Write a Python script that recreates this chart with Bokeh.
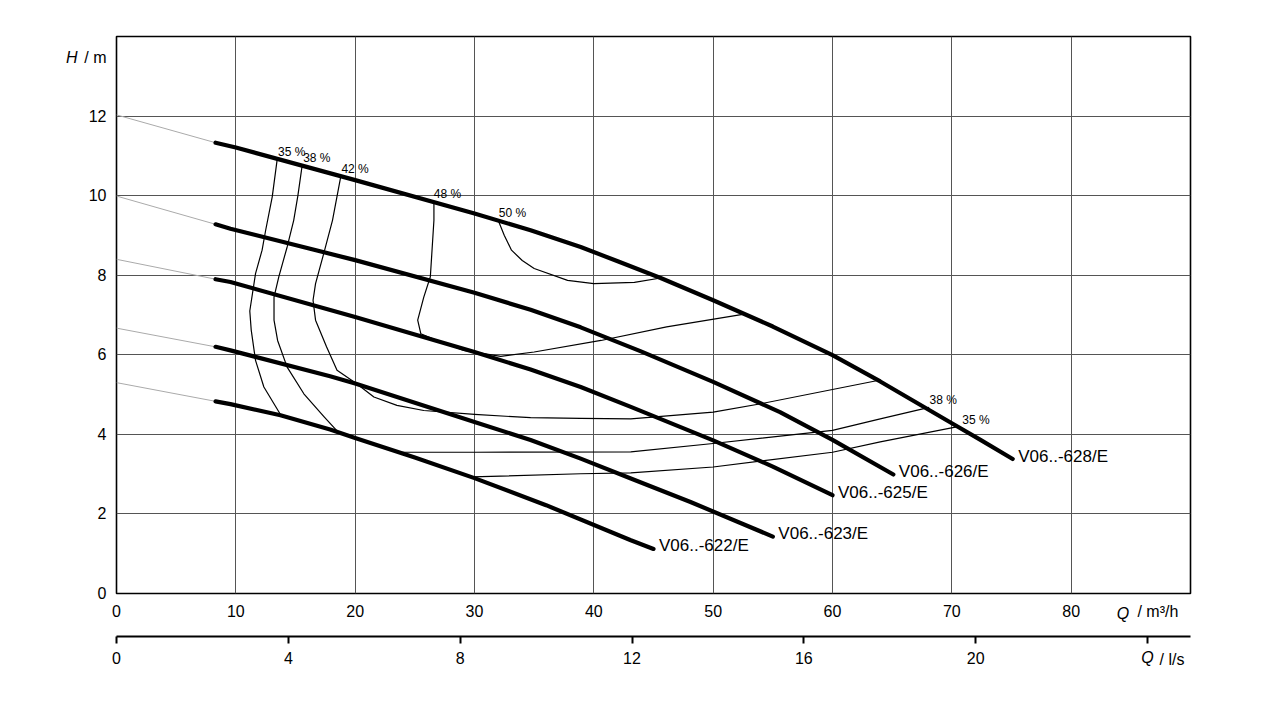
from bokeh.plotting import figure
from bokeh.models import Range1d, LinearAxis, FixedTicker
from bokeh.core.properties import value
from bokeh.embed import file_html
from bokeh.resources import INLINE

FONT = "Liberation Sans"

# ---------------- data (Q in m3/h, H in m) ----------------
pumps = ["V06..-628/E", "V06..-626/E", "V06..-625/E", "V06..-623/E", "V06..-622/E"]

q628 = [8.3, 10, 20, 30, 34.7, 38.9, 42, 45.6, 50, 55, 60, 64, 70, 72.4, 75.1]
h628 = [11.33, 11.21, 10.39, 9.55, 9.13, 8.71, 8.35, 7.93, 7.37, 6.71, 5.99, 5.33, 4.28, 3.86, 3.38]
q626 = [8.3, 9.55, 20, 30, 34.7, 38.9, 44, 50, 55.6, 60, 65.1]
h626 = [9.28, 9.17, 8.38, 7.56, 7.13, 6.69, 6.08, 5.32, 4.56, 3.86, 2.99]
q625 = [8.3, 9.55, 20, 30, 34.7, 38.9, 43.1, 50, 55, 60]
h625 = [7.90, 7.83, 6.95, 6.07, 5.63, 5.19, 4.69, 3.85, 3.19, 2.47]
q623 = [8.3, 9.55, 17.9, 20, 30, 34.7, 38.9, 43.1, 48.1, 55]
h623 = [6.20, 6.11, 5.46, 5.28, 4.31, 3.86, 3.39, 2.89, 2.30, 1.43]
q622 = [8.3, 9.55, 13.74, 17.9, 20, 25, 30, 36, 43.1, 45]
h622 = [4.83, 4.76, 4.48, 4.12, 3.91, 3.42, 2.90, 2.22, 1.34, 1.12]

# thin grey extensions from Q = 0 to the start of each curve
ext_q0 = [0, 0, 0, 0, 0]
ext_h0 = [12.03, 9.99, 8.40, 6.67, 5.30]

# efficiency iso-lines
eff35a_q = [13.46, 13.05, 12.5, 12.2, 11.65, 11.17, 11.29, 11.65, 12.35, 13.74]
eff35a_h = [10.90, 9.97, 9.13, 8.63, 8.04, 7.10, 6.62, 5.86, 5.19, 4.50]
eff35b_q = [29.8, 38.9, 43.1, 50, 60, 64, 70.4]
eff35b_h = [2.93, 3.01, 3.03, 3.18, 3.55, 3.81, 4.19]
eff38a_q = [15.55, 15.2, 14.85, 14.3, 13.6, 13.2, 13.2, 13.5, 14.3, 15.7, 17.4, 18.5]
eff38a_h = [10.74, 10.0, 9.38, 8.71, 7.96, 7.45, 6.87, 6.36, 5.69, 5.02, 4.44, 4.08]
eff38b_q = [23.9, 30, 43.1, 50, 60, 64, 68.1]
eff38b_h = [3.55, 3.55, 3.56, 3.77, 4.10, 4.39, 4.68]
eff42_q = [18.8, 18.1, 17.37, 16.68, 16.47, 16.68, 17.6, 18.48, 20.1, 21.57, 23.5, 25.75,
           30, 34.7, 38.9, 43.1, 50, 54, 63.9]
eff42_h = [10.49, 9.38, 8.55, 7.79, 7.37, 6.87, 6.2, 5.61, 5.28, 4.94, 4.73, 4.60,
           4.50, 4.42, 4.40, 4.39, 4.56, 4.77, 5.36]
eff48_q = [26.6, 26.6, 26.3, 25.75, 25.24, 25.5, 26.87, 29.1, 32.2, 35, 40.6, 46.1, 52.6]
eff48_h = [9.84, 9.38, 7.96, 7.45, 6.87, 6.53, 6.36, 6.11, 5.96, 6.07, 6.36, 6.70, 7.02]
eff50_q = [32.0, 32.5, 33.1, 34.0, 35, 37.8, 40, 43.4, 45.6]
eff50_h = [9.37, 9.0, 8.63, 8.37, 8.17, 7.87, 7.79, 7.82, 7.93]

eff_labels = ["35 %", "38 %", "42 %", "48 %", "50 %", "38 %", "35 %"]
eff_label_q = [13.54, 15.64, 18.85, 26.59, 32.04, 68.13, 70.87]
eff_label_h = [11.09, 10.94, 10.67, 10.04, 9.57, 4.86, 4.35]

x_ticks = [0, 10, 20, 30, 40, 50, 60, 70, 80]
y_ticks = [0, 2, 4, 6, 8, 10, 12]
ls_ticks = [0, 4, 8, 12, 16, 20]
ls_last_tick = 24

# caption anchor positions (data units of the respective scale)
H_CAP_Y = 13.47
Q_CAP_X = 84.35
QUNIT_CAP_X = 87.27
LS_UNIT_CAP_X = 88.45
GAP_TICK_X = 45

# ---------------- figure ----------------
p = figure(width=1264, height=687, x_range=Range1d(0, 90), y_range=Range1d(0, 14),
           output_backend="svg", toolbar_location=None,
           min_border_left=116, min_border_right=74, min_border_top=36, min_border_bottom=94)
p.background_fill_color = "white"
p.border_fill_color = "white"
p.outline_line_color = "black"
p.outline_line_width = 1.6

p.xgrid.ticker = FixedTicker(ticks=x_ticks[1:])
p.ygrid.ticker = FixedTicker(ticks=y_ticks[1:])
for g in (p.xgrid[0], p.ygrid[0]):
    g.grid_line_color = "#555555"
    g.grid_line_width = 1
    g.grid_line_alpha = 1.0


def style_axis(ax, standoff, tick_out=0, italic=False, line=False, labels=True, tick_color="black"):
    ax.axis_line_color = "black" if line else None
    ax.axis_line_width = 2
    ax.major_tick_out = tick_out
    ax.major_tick_in = 0
    ax.major_tick_line_width = 2
    ax.major_tick_line_color = tick_color
    ax.minor_tick_out = 0
    ax.minor_tick_in = 0
    ax.minor_tick_line_color = None
    ax.major_label_text_font = FONT
    ax.major_label_text_font_size = "16px"
    ax.major_label_text_color = "black" if labels else None
    ax.major_label_text_font_style = "italic" if italic else "normal"
    ax.major_label_standoff = standoff


# main Q axis (m3/h) with the unit part of its caption
xa = p.xaxis[0]
xa.ticker = FixedTicker(ticks=x_ticks + [QUNIT_CAP_X])
xa.major_label_overrides = {QUNIT_CAP_X: "/ m\u00b3/h"}
style_axis(xa, 9, tick_color=None)

# main H axis with the unit part of its caption
ya = p.yaxis[0]
ya.ticker = FixedTicker(ticks=y_ticks + [H_CAP_Y])
ya.major_label_overrides = {H_CAP_Y: "/ m"}
style_axis(ya, 10, tick_color=None)

# italic symbol "H" to the left of "/ m"
yh = LinearAxis(ticker=FixedTicker(ticks=[H_CAP_Y]), major_label_overrides={H_CAP_Y: "H"})
style_axis(yh, 4, italic=True, tick_color=None)
p.add_layout(yh, "left")

# italic symbol "Q" in the same row as the m3/h tick labels
xq = LinearAxis(ticker=FixedTicker(ticks=[Q_CAP_X]), major_label_overrides={Q_CAP_X: "Q"})
style_axis(xq, -18, italic=True, tick_color=None)
p.add_layout(xq, "below")

# empty gap between the two flow scales (a white tick on white background)
gap = LinearAxis(ticker=FixedTicker(ticks=[GAP_TICK_X]))
style_axis(gap, 0, tick_out=12, tick_color="white", labels=False)
p.add_layout(gap, "below")

# second flow scale in l/s (1 l/s = 3.6 m3/h): line and ticks
p.extra_x_ranges = {"ls": Range1d(0, 90 / 3.6)}
ax2 = LinearAxis(x_range_name="ls", ticker=FixedTicker(ticks=ls_ticks + [ls_last_tick]))
style_axis(ax2, 0, tick_out=7, line=True, labels=False)
p.add_layout(ax2, "below")

# its numbers
ax2l = LinearAxis(x_range_name="ls", ticker=FixedTicker(ticks=ls_ticks))
style_axis(ax2l, 8, tick_color=None)
p.add_layout(ax2l, "below")

# its caption: italic "Q" at the last tick, then "/ l/s"
ax2q = LinearAxis(x_range_name="ls", ticker=FixedTicker(ticks=[ls_last_tick]),
                  major_label_overrides={ls_last_tick: "Q"})
style_axis(ax2q, -18, italic=True, tick_color=None)
p.add_layout(ax2q, "below")
ax2u = LinearAxis(ticker=FixedTicker(ticks=[LS_UNIT_CAP_X]),
                  major_label_overrides={LS_UNIT_CAP_X: "/ l/s"})
style_axis(ax2u, -18, tick_color=None)
p.add_layout(ax2u, "below")

# ---------------- curves ----------------
curves_q = [q628, q626, q625, q623, q622]
curves_h = [h628, h626, h625, h623, h622]

for q0, h0, qs, hs in zip(ext_q0, ext_h0, curves_q, curves_h):
    p.line([q0, qs[0]], [h0, hs[0]], line_color="#aaaaaa", line_width=1)

effs = [(eff35a_q, eff35a_h), (eff35b_q, eff35b_h), (eff38a_q, eff38a_h), (eff38b_q, eff38b_h),
        (eff42_q, eff42_h), (eff48_q, eff48_h), (eff50_q, eff50_h)]
for qs, hs in effs:
    p.line(qs, hs, line_color="black", line_width=1.2, line_join="round")

for qs, hs in zip(curves_q, curves_h):
    p.line(qs, hs, line_color="black", line_width=4.2, line_cap="round", line_join="round")

p.text(x=eff_label_q, y=eff_label_h, text=eff_labels, text_font=value(FONT),
       text_font_size=value("12px"), text_color="black", text_baseline="alphabetic",
       text_align="left")

end_q = [qs[-1] for qs in curves_q]
end_h = [hs[-1] for hs in curves_h]
p.text(x=end_q, y=end_h, text=pumps, text_font=value(FONT), text_font_size=value("17px"),
       text_color="black", text_baseline="middle", text_align="left",
       x_offset=5.5, y_offset=-3)

open("out.html", "w").write(file_html(p, INLINE))
